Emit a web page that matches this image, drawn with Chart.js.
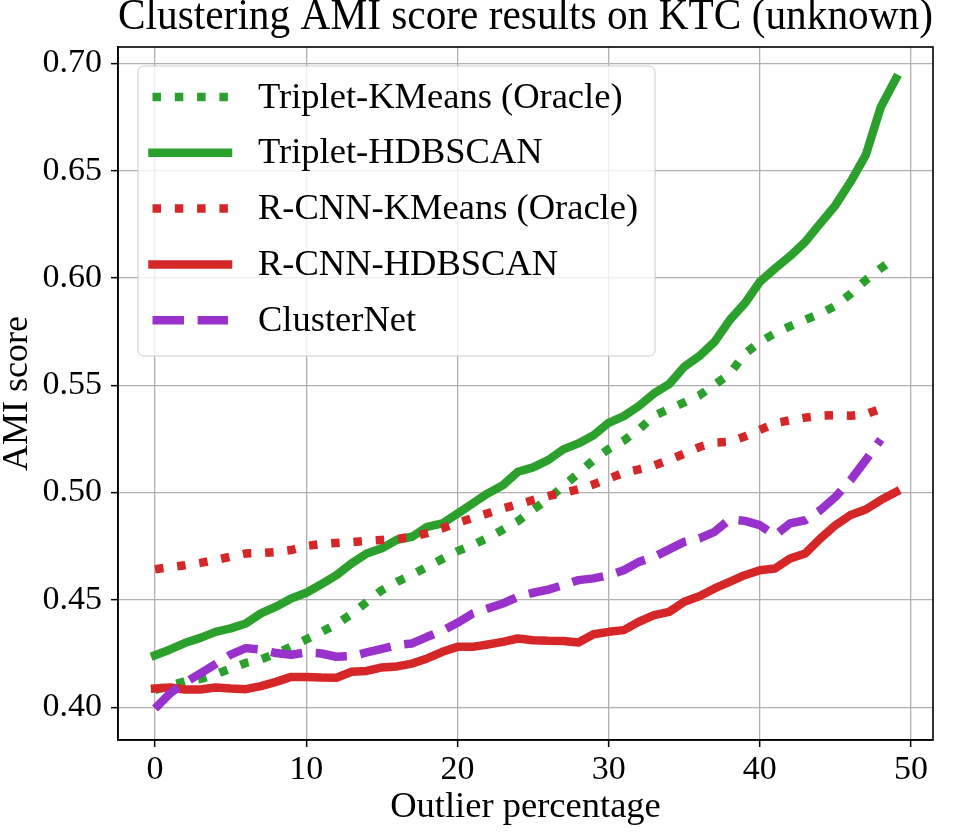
<!DOCTYPE html>
<html>
<head>
<meta charset="utf-8">
<script src="https://cdn.jsdelivr.net/npm/chart.js@4.4.1/dist/chart.umd.min.js"></script>
<style>
  html, body { margin: 0; padding: 0; background: #ffffff; }
  #wrap { width: 965px; height: 832px; }
</style>
</head>
<body>
<div id="wrap"><canvas id="c" width="965" height="832"></canvas></div>
<script>
// ---------- data ----------
const outlierPct = [0,1,2,3,4,5,6,7,8,9,10,11,12,13,14,15,16,17,18,19,20,21,22,23,24,25,26,27,28,29,30,31,32,33,34,35,36,37,38,39,40,41,42,43,44,45,46,47,48,49];

const tripletKMeans = [0.408,0.410,0.4121,0.4131,0.4153,0.418,0.4206,0.4223,0.425,0.4282,
  0.4316,0.435,0.4387,0.4434,0.449,0.4545,0.4584,0.4617,0.4654,0.4691,
  0.4727,0.4755,0.4789,0.4827,0.4867,0.4921,0.497,0.503,0.509,0.5152,
  0.5203,0.5242,0.5294,0.5357,0.539,0.542,0.5453,0.5502,0.5553,0.5646,
  0.5702,0.5742,0.5775,0.5805,0.5834,0.587,0.5926,0.599,0.6045,0.6095];

const tripletHDBSCAN = [0.4242,0.4269,0.4300,0.4323,0.4351,0.4367,0.4390,0.4437,0.4468,0.4506,
  0.4533,0.4573,0.4615,0.4670,0.4716,0.4740,0.4780,0.4794,0.4840,0.4856,
  0.4902,0.4949,0.4996,0.5034,0.5097,0.5117,0.5151,0.5201,0.5229,0.5267,
  0.5325,0.5356,0.5403,0.5462,0.5505,0.5586,0.5636,0.5702,0.5803,0.5881,
  0.5982,0.6044,0.6102,0.6168,0.6254,0.6339,0.6448,0.6572,0.6797,0.6929];

const rcnnKMeans = [0.4643,0.4652,0.4661,0.4672,0.4686,0.4701,0.4716,0.4718,0.4723,0.4732,
  0.4751,0.4760,0.4765,0.4769,0.4775,0.4779,0.4783,0.4795,0.4811,0.4833,
  0.4859,0.4881,0.4903,0.4926,0.4945,0.4965,0.4984,0.4998,0.5015,0.5038,
  0.5065,0.5092,0.5108,0.5126,0.5152,0.5181,0.5212,0.5233,0.5236,0.5261,
  0.5292,0.5323,0.5337,0.5349,0.5358,0.5360,0.5358,0.5365,0.5390];

const rcnnHDBSCAN = [0.4087,0.4092,0.4082,0.4082,0.4092,0.4087,0.4084,0.4098,0.4118,0.4141,
  0.4141,0.4138,0.4137,0.4165,0.4169,0.4185,0.4190,0.4203,0.4227,0.4258,
  0.4281,0.4281,0.4292,0.4304,0.4320,0.4312,0.4309,0.4308,0.4301,0.4340,
  0.4351,0.4359,0.4398,0.4429,0.4444,0.4491,0.4517,0.4553,0.4584,0.4615,
  0.4638,0.4646,0.4693,0.4716,0.4786,0.4848,0.4895,0.4921,0.4965,0.5003];

const clusterNet = [0.3994,0.4065,0.4115,0.4157,0.4200,0.4245,0.4275,0.4268,0.4252,0.4244,
  0.4255,0.4250,0.4235,0.4238,0.4255,0.4272,0.4289,0.4297,0.4328,0.4356,
  0.4393,0.4436,0.4460,0.4483,0.4514,0.4533,0.4548,0.4569,0.4592,0.4600,
  0.4615,0.4638,0.4677,0.4700,0.4735,0.4770,0.4786,0.4817,0.4875,0.4868,
  0.4848,0.4801,0.4856,0.4871,0.4918,0.4980,0.5058,0.5151,0.5247];

const seriesNames = ['Triplet-KMeans (Oracle)', 'Triplet-HDBSCAN', 'R-CNN-KMeans (Oracle)', 'R-CNN-HDBSCAN', 'ClusterNet'];
const xTickValues = [0, 10, 20, 30, 40, 50];
const yTickValues = [0.40, 0.45, 0.50, 0.55, 0.60, 0.65, 0.70];
const chartTitle = 'Clustering AMI score results on KTC (unknown)';
const xTitle = 'Outlier percentage';
const yTitle = 'AMI score';

// ---------- styling ----------
const FONT = '"Liberation Serif", "Times New Roman", serif';
const LW = 8.5;
const DOTTED = [8.5, 13.8];
const DASHED = [31.5, 13.6];
const GREEN = '#2ca02c', RED = '#d62728', PURPLE = '#9932cc';

function pts(ys) { return ys.map((y, i) => ({ x: outlierPct[i], y: y })); }

const styles = [
  { color: GREEN, dash: DOTTED, cap: 'butt' },
  { color: GREEN, dash: [], cap: 'square' },
  { color: RED, dash: DOTTED, cap: 'butt' },
  { color: RED, dash: [], cap: 'square' },
  { color: PURPLE, dash: DASHED, cap: 'butt' }
];
const seriesData = [tripletKMeans, tripletHDBSCAN, rcnnKMeans, rcnnHDBSCAN, clusterNet];

const datasets = seriesData.map((ys, k) => ({
  label: seriesNames[k],
  data: pts(ys),
  borderColor: styles[k].color,
  backgroundColor: styles[k].color,
  borderWidth: LW,
  borderDash: styles[k].dash,
  borderCapStyle: styles[k].cap,
  borderJoinStyle: 'round',
  pointRadius: 0,
  pointHoverRadius: 0,
  tension: 0,
  fill: false,
  order: seriesData.length - k
}));

// frame + matplotlib-like legend
const framePlugin = {
  id: 'frameAndLegend',
  afterDatasetsDraw(chart) {
    const ctx = chart.ctx, a = chart.chartArea;
    ctx.save();
    ctx.strokeStyle = '#000000';
    ctx.lineWidth = 1.6;
    ctx.setLineDash([]);
    ctx.strokeRect(a.left, a.top, a.right - a.left, a.bottom - a.top);
    ctx.restore();

    ctx.save();
    ctx.font = '36.5px ' + FONT;
    const ds = chart.data.datasets;
    let maxW = 0;
    ds.forEach(d => { maxW = Math.max(maxW, ctx.measureText(d.label).width); });
    const bx = a.left + 20, by = a.top + 19;
    const textX = a.left + 140;
    const bw = textX + maxW + 17 - bx;
    const bh = 290;
    ctx.beginPath();
    ctx.roundRect(bx, by, bw, bh, 6);
    ctx.fillStyle = 'rgba(255,255,255,0.8)';
    ctx.fill();
    ctx.lineWidth = 1;
    ctx.strokeStyle = '#cccccc';
    ctx.stroke();
    const firstY = a.top + 50, rowH = 55.8;
    ds.forEach((d, i) => {
      const y = firstY + i * rowH;
      ctx.beginPath();
      ctx.setLineDash(d.borderDash || []);
      ctx.lineCap = d.borderCapStyle;
      ctx.lineWidth = d.borderWidth;
      ctx.strokeStyle = d.borderColor;
      ctx.moveTo(a.left + 34.5, y);
      ctx.lineTo(a.left + 110, y);
      ctx.stroke();
      ctx.setLineDash([]);
      ctx.fillStyle = '#000000';
      ctx.textBaseline = 'middle';
      ctx.textAlign = 'left';
      ctx.fillText(d.label, textX, y + 1);
    });
    ctx.restore();
  }
};

new Chart(document.getElementById('c'), {
  type: 'line',
  data: { datasets: datasets },
  options: {
    responsive: false,
    animation: false,
    devicePixelRatio: 1,
    layout: { padding: { left: 0, right: 32, top: 0, bottom: 0 } },
    plugins: {
      legend: { display: false },
      tooltip: { enabled: false },
      title: {
        display: true,
        text: chartTitle,
        fullSize: false,
        align: 'center',
        color: '#000000',
        font: { family: FONT, size: 45, weight: 'normal', lineHeight: 0.6 },
        padding: { top: 4, bottom: 16 }
      }
    },
    scales: {
      x: {
        type: 'linear',
        min: -2.45,
        max: 51.45,
        afterBuildTicks: s => { s.ticks = xTickValues.map(v => ({ value: v })); },
        afterFit: s => { s.height = 92; },
        ticks: {
          color: '#000000',
          font: { family: FONT, size: 34 },
          padding: 3,
          maxRotation: 0,
          autoSkip: false,
          callback: v => String(v)
        },
        grid: { color: '#b0b0b0', lineWidth: 1.3, drawTicks: true, tickLength: 7, tickColor: '#000000', tickWidth: 1.5 },
        border: { display: true, color: '#000000', width: 1.6 },
        title: { display: true, text: xTitle, color: '#000000', font: { family: FONT, size: 36.5, lineHeight: 1.2 }, padding: { top: 0, bottom: 3 } }
      },
      y: {
        type: 'linear',
        min: 0.3847,
        max: 0.7076,
        afterBuildTicks: s => { s.ticks = yTickValues.map(v => ({ value: v })); },
        afterFit: s => { s.width = 118; },
        ticks: {
          color: '#000000',
          font: { family: FONT, size: 34 },
          padding: 9,
          autoSkip: false,
          callback: v => Number(v).toFixed(2)
        },
        grid: { color: '#b0b0b0', lineWidth: 1.3, drawTicks: true, tickLength: 7, tickColor: '#000000', tickWidth: 1.5 },
        border: { display: true, color: '#000000', width: 1.6 },
        title: { display: true, text: yTitle, color: '#000000', font: { family: FONT, size: 36, lineHeight: 1.0 }, padding: { top: 0, bottom: 0 } }
      }
    }
  },
  plugins: [framePlugin]
});
</script>
</body>
</html>
